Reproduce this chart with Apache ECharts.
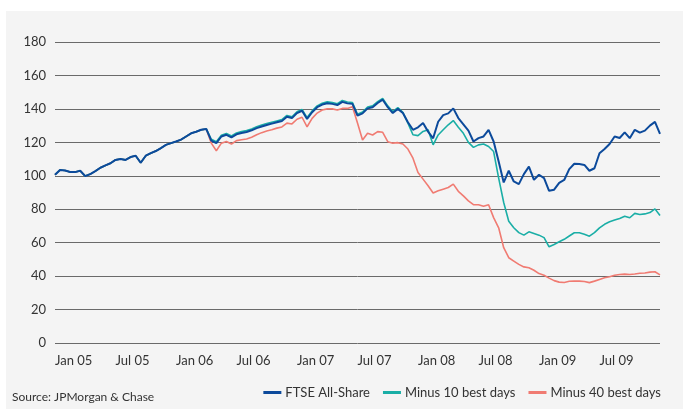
<!DOCTYPE html>
<html>
<head>
<meta charset="utf-8">
<script src="https://cdn.jsdelivr.net/npm/echarts@6/dist/echarts.min.js"></script>
<style>
  html, body { margin: 0; padding: 0; background: #fff; }
  #chart { width: 683px; height: 409px; }
</style>
</head>
<body>
<div id="chart"></div>
<script>
// half-monthly readings, Jan 2005 .. Jan 2010
var ftse = [
    100.6,103.5,103.2,102.3,102.2,103.0,99.8,101.0,102.8,104.8,
    106.2,107.5,109.5,110.0,109.5,111.2,112.0,107.8,112.0,113.5,
    114.8,116.5,118.5,119.5,120.5,121.6,123.5,125.4,126.3,127.5,
    128.0,121.0,119.5,123.5,124.5,123.0,124.8,125.6,126.2,127.2,
    128.5,129.5,130.4,131.2,132.0,132.8,135.3,134.5,137.5,138.9,
    134.0,138.0,141.0,142.6,143.4,143.0,142.3,144.2,143.3,143.0,
    136.0,137.3,140.3,141.0,143.5,145.5,141.0,137.5,140.0,137.5,
    132.0,127.5,129.0,131.5,126.4,122.4,132.3,136.3,137.3,140.3,
    134.5,130.8,127.0,120.5,122.5,123.5,127.4,120.5,108.5,96.0,
    103.0,96.6,95.0,101.0,105.5,97.6,100.6,98.6,91.0,91.7,
    95.8,97.5,104.0,107.2,107.0,106.5,103.0,104.5,113.5,116.0,
    119.0,123.5,122.6,126.0,122.5,127.5,125.8,127.0,130.0,132.2,
    125.0
];
var minus10 = [
    100.6,103.5,103.2,102.3,102.2,103.0,99.8,101.0,102.8,104.8,
    106.2,107.5,109.5,110.0,109.5,111.2,112.0,107.8,112.0,113.5,
    114.8,116.5,118.5,119.5,120.5,121.6,123.5,125.4,126.3,127.5,
    128.0,121.8,120.3,124.3,125.3,123.8,125.6,126.4,127.0,128.0,
    129.3,130.3,131.2,132.0,132.8,133.6,136.1,135.3,138.3,139.7,
    134.8,138.8,141.8,143.4,144.2,143.8,143.1,145.0,144.1,143.8,
    136.8,138.1,141.1,141.8,144.3,146.3,141.8,138.3,140.8,138.0,
    131.5,124.5,124.0,126.5,127.5,118.5,124.4,127.5,130.5,133.0,
    129.0,125.4,120.0,117.0,118.5,119.0,117.5,114.5,98.6,84.0,
    72.8,68.9,66.0,64.5,66.5,65.5,64.5,63.0,57.5,58.9,
    60.5,62.0,64.0,65.9,65.9,65.0,63.9,66.0,68.8,71.0,
    72.5,73.5,74.5,75.8,74.9,77.5,76.8,77.2,78.0,80.2,
    76.2
];
var minus40 = [
    100.6,103.5,103.2,102.3,102.2,103.0,99.8,101.0,102.8,104.8,
    106.2,107.5,109.5,110.0,109.5,111.2,112.0,107.8,112.0,113.5,
    114.8,116.5,118.5,119.5,120.5,121.6,123.5,125.4,126.3,127.5,
    128.0,119.5,115.0,119.5,120.5,119.0,121.0,121.5,122.0,123.0,
    124.5,125.8,126.8,127.5,128.5,129.2,131.5,131.0,133.8,135.0,
    129.3,134.3,137.5,139.3,140.0,140.0,139.3,140.3,140.3,141.3,
    131.5,121.4,125.4,124.4,126.4,126.0,120.4,119.5,119.8,119.0,
    116.0,110.5,102.0,98.0,94.0,89.7,91.0,92.0,93.0,95.0,
    90.7,88.0,85.0,82.7,82.7,81.8,82.7,75.0,68.9,57.0,
    51.0,49.0,47.0,45.5,45.0,43.5,41.5,40.5,38.8,37.3,
    36.4,36.2,36.9,37.1,37.0,36.8,36.1,37.0,38.0,39.0,
    39.6,40.5,41.0,41.2,41.0,41.3,41.7,41.9,42.4,42.6,
    40.7
];
var seriesNames = ['FTSE All-Share', 'Minus 10 best days', 'Minus 40 best days'];
var monthNames = ['Jan', 'Jul'];

// one category per half month
var periods = [];
for (var i = 0; i < ftse.length; i++) {
    var yr = 5 + Math.floor(i / 24);
    var mo = Math.floor(i / 2) % 12;
    periods.push({ yr: yr, mo: mo });
}
var cats = periods.map(function (p, i) { return String(i); });

var fontName = 'Lato';

var option = {
    animation: false,
    backgroundColor: '#ffffff',
    textStyle: { fontFamily: fontName },
    graphic: [
        { type: 'rect', z: -10, shape: { x: 6, y: 11, width: 677, height: 398 }, style: { fill: '#f4f4f4' } },
        { type: 'text', left: 12, top: 391, style: { text: 'Source: JPMorgan & Chase', fontSize: 12, fill: '#333', fontFamily: fontName } }
    ],
    grid: { left: 55, right: 23, top: 42, bottom: 66 },
    legend: {
        data: seriesNames,
        right: 22,
        top: 386,
        padding: 0,
        icon: 'rect',
        itemWidth: 18,
        itemHeight: 3,
        itemGap: 13,
        textStyle: { fontSize: 13, color: '#333', fontFamily: fontName, padding: [0, 0, 0, -1] }
    },
    xAxis: {
        type: 'category',
        data: cats,
        boundaryGap: false,
        axisLine: { show: false },
        axisTick: { show: false },
        splitLine: { show: false },
        axisLabel: {
            margin: 11,
            fontSize: 13,
            color: '#333',
            align: 'left',
            interval: function (idx) { return idx % 12 === 0 && idx < 120; },
            formatter: function (v, idx) {
                var p = periods[idx];
                var yy = p.yr < 10 ? '0' + p.yr : String(p.yr);
                return (p.mo === 0 ? monthNames[0] : monthNames[1]) + ' ' + yy;
            }
        }
    },
    yAxis: {
        type: 'value',
        min: 0,
        max: 180,
        interval: 20,
        axisLine: { show: false },
        axisTick: { show: false },
        axisLabel: { fontSize: 13, color: '#333', margin: 9 },
        splitLine: { lineStyle: { color: '#6a6a6a', width: 1 } }
    },
    series: [
        {
            name: seriesNames[2], type: 'line', data: minus40, symbol: 'none', z: 2,
            lineStyle: { color: '#f07b72', width: 1.6 }, itemStyle: { color: '#f07b72' }
        },
        {
            name: seriesNames[1], type: 'line', data: minus10, symbol: 'none', z: 3,
            lineStyle: { color: '#1aaea6', width: 1.6 }, itemStyle: { color: '#1aaea6' }
        },
        {
            name: seriesNames[0], type: 'line', data: ftse, symbol: 'none', z: 4,
            lineStyle: { color: '#0c4a9b', width: 2 }, itemStyle: { color: '#0c4a9b' }
        }
    ]
};

var myChart = echarts.init(document.getElementById('chart'));
myChart.setOption(option);
</script>
</body>
</html>
